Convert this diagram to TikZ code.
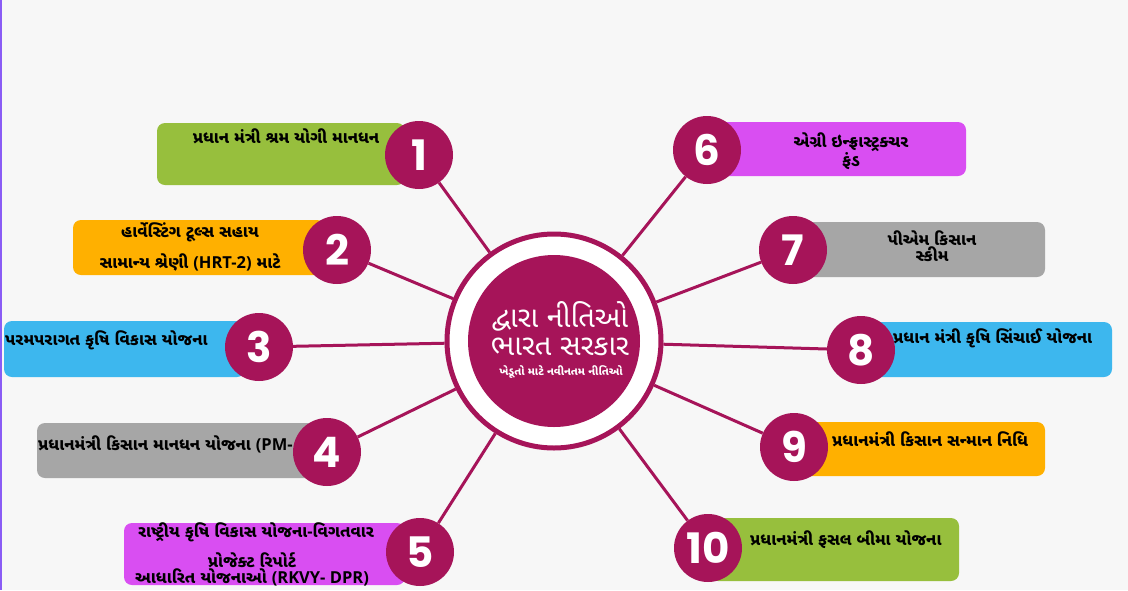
\documentclass[tikz,border=0pt]{standalone}
\usepackage{fontspec}
\setmainfont{Noto Sans}
\newfontfamily\guj[Script=Gujarati]{Noto Sans Gujarati UI}
\newfontfamily\latf{Open Sans}
\newfontfamily\numf{Poppins}
\definecolor{mag}{HTML}{A61459}
\definecolor{cgreen}{HTML}{97BF3D}
\definecolor{corange}{HTML}{FFB000}
\definecolor{cblue}{HTML}{3DB7EE}
\definecolor{cgray}{HTML}{A6A6A6}
\definecolor{cviolet}{HTML}{D94EF2}
\definecolor{bgc}{HTML}{F7F7F7}
\definecolor{edge}{HTML}{8A5CF5}
\pgfdeclarelayer{bg}
\pgfdeclarelayer{mid}
\pgfsetlayers{bg,mid,main}
\newcommand{\lt}[1]{{\latf\bfseries #1}}
\begin{document}
\begin{tikzpicture}[x=1pt,y=-1pt,
  box/.style={rounded corners=8pt},
  numc/.style={circle, fill=mag, minimum size=68pt, inner sep=0pt, text=white, font=\numf\bfseries\fontsize{42}{42}\selectfont},
  spoke/.style={draw=mag, line width=3pt},
  lbl/.style={font=\guj\bfseries\fontsize{16.5}{16}\selectfont, inner sep=0pt, align=center, text=black}]
\begin{pgfonlayer}{bg}
\useasboundingbox (0,0) rectangle (1128,590);
\fill[bgc] (0,0) rectangle (1128,590);
\fill[edge] (0,0) rectangle (2,590);
% boxes
\fill[box,cgreen]  (157,123) rectangle (405,185);
\fill[box,corange] (73,220) rectangle (325,275);
\fill[box,cblue]   (4,321) rectangle (245,377);
\fill[box,cgray]   (37,423) rectangle (315,478);
\fill[box,cviolet] (124,523) rectangle (405,585);
\fill[box,cviolet] (710,122) rectangle (966,176);
\fill[box,cgray]   (800,222) rectangle (1045,277);
\fill[box,cblue]   (870,322) rectangle (1112,377);
\fill[box,corange] (800,422) rectangle (1045,476);
\fill[box,cgreen]  (710,518) rectangle (959,581);
% labels
\node[lbl] (t1) at (286,136) {પ્રધાન મંત્રી શ્રમ યોગી માનધન};
\node[lbl] (t2a) at (190,232) {હાર્વેસ્ટિંગ ટૂલ્સ સહાય};
\node[lbl] (t2b) at (190,262) {સામાન્ય શ્રેણી \lt{(HRT-2)} માટે};
\node[lbl,anchor=west] (t3) at (5,340) {પરમપરાગત કૃષિ વિકાસ યોજના};
\node[lbl,anchor=west] (t4) at (38,444) {પ્રધાનમંત્રી કિસાન માનધન યોજના \lt{(PM-}};
\node[lbl] (t5a) at (256,532) {રાષ્ટ્રીય કૃષિ વિકાસ યોજના\lt{-}વિગતવાર};
\node[lbl,font=\guj\bfseries\fontsize{16.5}{16}\selectfont] (t5b) at (252,569) {પ્રોજેક્ટ રિપોર્ટ\\આધારિત યોજનાઓ \lt{(RKVY- DPR)}};
\node[lbl,font=\guj\bfseries\fontsize{16.5}{14}\selectfont] (t6) at (851,151) {એગ્રી ઇન્ફ્રાસ્ટ્રક્ચર\\ફંડ};
\node[lbl,font=\guj\bfseries\fontsize{16.5}{13}\selectfont] (t7) at (932,246) {પીએમ કિસાન\\સ્કીમ};
\node[lbl,anchor=west] (t8) at (893,338) {પ્રધાન મંત્રી કૃષિ સિંચાઈ યોજના};
\node[lbl,anchor=west] (t9) at (832,439) {પ્રધાનમંત્રી કિસાન સન્માન નિધિ};
\node[lbl,anchor=west] (t10) at (750,540) {પ્રધાનમંત્રી ફસલ બીમા યોજના};
\end{pgfonlayer}
% hub
\node[circle, minimum size=214pt, inner sep=0pt, draw=mag, line width=5pt, fill=white] (hub) at (554,341) {};
\node[circle, minimum size=172pt, inner sep=0pt, fill=mag] (disc) at (554,341) {};
\node[font=\guj\fontsize{29}{28}\selectfont, text=white, align=center, inner sep=0pt] (title) at (560,329) {દ્વારા નીતિઓ\\ભારત સરકાર};
\node[font=\guj\bfseries\fontsize{11}{11}\selectfont, text=white, inner sep=0pt] (sub) at (561,372) {ખેડૂતો માટે નવીનતમ નીતિઓ};
% numbers
\node[numc] (n1) at (419,155) {1};
\node[numc] (n2) at (337,250) {2};
\node[numc] (n3) at (259,347) {3};
\node[numc] (n4) at (327,452) {4};
\node[numc] (n5) at (420,552) {5};
\node[numc] (n6) at (707,150) {6};
\node[numc] (n7) at (793,250) {7};
\node[numc] (n8) at (861,350) {8};
\node[numc] (n9) at (794,447) {9};
\node[numc] (n10) at (708,548) {10};
\begin{pgfonlayer}{mid}
\foreach \i in {1,...,10} {\draw[spoke] (hub) -- (n\i);}
\end{pgfonlayer}
\end{tikzpicture}
\end{document}
